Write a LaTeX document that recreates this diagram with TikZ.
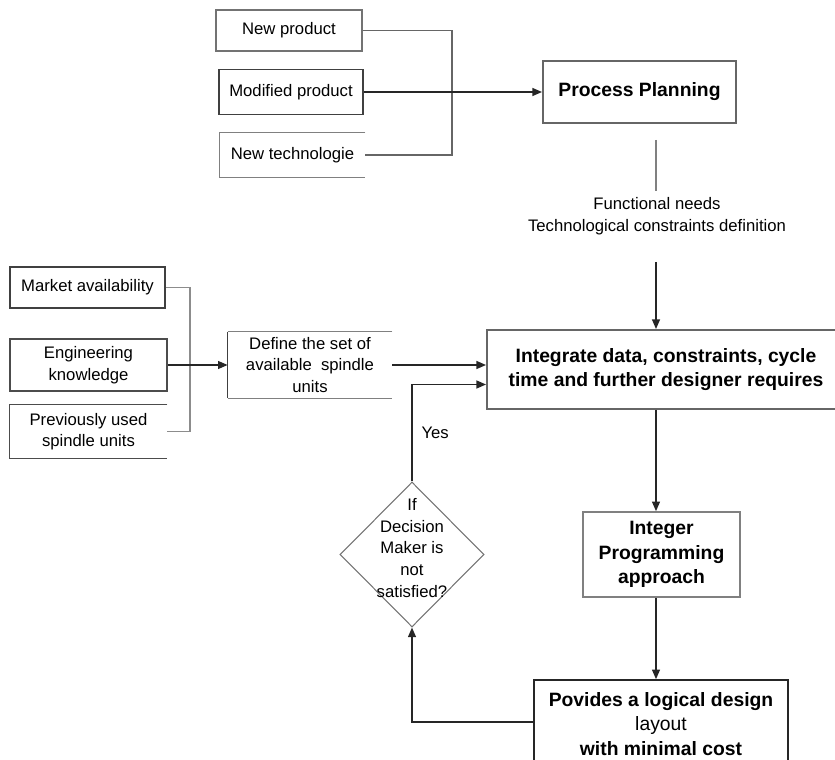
\documentclass[tikz,border=0pt]{standalone}
\usepackage{fontspec}
\setmainfont{Liberation Sans}
\usetikzlibrary{positioning,shapes.geometric,arrows.meta,calc}

\tikzset{
  box/.style={draw=black!55, line width=0.9pt, align=center,
    inner sep=2pt, font=\fontsize{9.5}{12.3}\selectfont},
  openbox/.style={align=center, inner sep=2pt,
    font=\fontsize{9.5}{12.3}\selectfont},
  bigbox/.style={draw=black!60, line width=1.1pt, align=center,
    inner sep=2pt, font=\bfseries\fontsize{11}{14}\selectfont},
  decision/.style={diamond, draw=black!55, line width=0.6pt, inner sep=0pt},
  note/.style={align=center, inner sep=1pt, font=\fontsize{9.5}{12.3}\selectfont},
  edge/.style={draw=black!50, line width=0.8pt},
  link/.style={draw=black!45, line width=0.7pt},
  flow/.style={draw=black!85, line width=0.9pt, -{Triangle[length=5.5pt,width=4.5pt]}}
}

\begin{document}
\begin{tikzpicture}[x=0.02cm, y=-0.02cm]
\useasboundingbox (0,0) rectangle (835,760);
\clip (0,0) rectangle (835,760);

% inputs to process planning
\node (newprod) [box, minimum width=2.92cm, minimum height=0.82cm] at (289,30.5) {New product};
\node (modprod) [box, draw=black!75, minimum width=2.88cm, minimum height=0.9cm] at (291,92) {Modified product};
\node (newtech) [openbox, minimum width=2.9cm, minimum height=0.88cm] at (292.5,155) {New technologie};
\draw [edge] (newtech.north east) -- (newtech.north west) -- (newtech.south west) -- (newtech.south east);

\node (planning) [bigbox, minimum width=3.86cm, minimum height=1.24cm] at (639.5,92) {Process Planning};

\coordinate (b1) at (452,0);
\draw [link, draw=black!60] (newprod.east) -| (b1 |- newtech.east) -- (newtech.east);
\draw [flow] (modprod.east) -- (planning.west);

% needs from planning
\coordinate (n1) at (656,140);
\coordinate (n2) at (656,191);
\coordinate (n3) at (656,262);
\node (needs) [note] at (657,216) {Functional needs\\Technological constraints definition};
\draw [edge] (n1) -- (n2);

% spindle units
\node (market) [box, draw=black!75, minimum width=3.1cm, minimum height=0.82cm] at (87.5,287.5) {Market availability};
\node (engin) [box, draw=black!70, minimum width=3.14cm, minimum height=1.04cm] at (88.5,365) {Engineering\\knowledge};
\node (prev) [openbox, minimum width=3.14cm, minimum height=1.06cm] at (88.5,431.5) {Previously used\\spindle units};
\draw [edge, draw=black!70] (prev.north east) -- (prev.north west) -- (prev.south west) -- (prev.south east);

\node (define) [openbox, minimum width=3.28cm, minimum height=1.32cm] at (310,365) {Define the set of\\available\ \ spindle\\units};
\draw [edge] (define.north east) -- (define.north west);
\draw [edge, draw=black!75] (define.north west) -- (define.south west);
\draw [edge] (define.south west) -- (define.south east);

\coordinate (b2) at (190,0);
\draw [link] (market.east) -| (b2 |- prev.east) -- (prev.east);
\draw [flow] (engin.east) -- (define.west);

% main chain
\node (integrate) [bigbox, minimum width=7.16cm, minimum height=1.58cm] at (666,369.5) {Integrate data, constraints, cycle\\time and further designer requires};
\node (integer) [bigbox, draw=black!50, line width=0.9pt, minimum width=3.14cm, minimum height=1.7cm] at (661.5,554.5) {Integer\\Programming\\approach};
\node (result) [bigbox, draw=black!85, line width=0.9pt, minimum width=5.08cm, minimum height=1.76cm] at (661,724) {Povides a logical design\\{\mdseries layout}\\with minimal cost};

\draw [flow] (n3) -- (n3 |- integrate.north);
\draw [flow] (define.east) -- (define.east -| integrate.west);
\draw [flow] (n1 |- integrate.south) -- (n1 |- integer.north);
\draw [flow] (n1 |- integer.south) -- (n1 |- result.north);

% feedback loop
\node (decide) [decision, minimum width=2.88cm, minimum height=2.9cm] at (412,554.5) {};
\node (decidetxt) [note] at (412,548) {If\\Decision\\Maker is\\not\\satisfied?};

\draw [flow] ($(result.west)+(0,-2)$) -| (decide.south);
\draw [flow] (decide.north) |- node (yes) [note, pos=0.25, right=4pt] {Yes} ($(integrate.west)+(0,15)$);

\end{tikzpicture}
\end{document}
